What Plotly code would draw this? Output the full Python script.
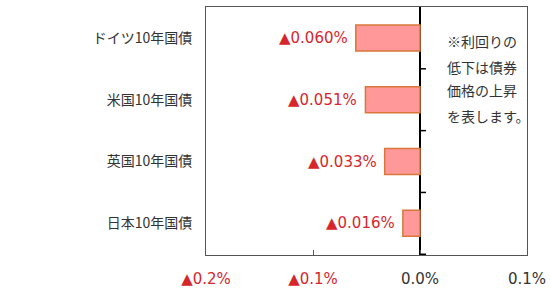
import plotly.graph_objects as go

categories = ["ドイツ10年国債", "米国10年国債", "英国10年国債", "日本10年国債"]
values = [-0.060, -0.051, -0.033, -0.016]
x_tickvals = [-0.2, -0.1, 0.0, 0.1]
x_ticklabels = ["▲0.2%", "▲0.1%", "0.0%", "0.1%"]
note_lines = ["※利回りの", "低下は債券", "価格の上昇", "を表します。"]

RED = "#D7262B"
DARK = "#333333"
NUMFONT = "DejaVu Sans, Noto Sans CJK JP, sans-serif"
JPFONT = "Noto Sans CJK JP, sans-serif"

def fmt(v):
    return ("▲" if v < 0 else "") + f"{abs(v):.3f}%"

def tick_text(lbl):
    if lbl.startswith("▲"):
        return f"<span style='color:{RED}'>{lbl}</span>"
    return lbl

fig = go.Figure()
fig.add_trace(go.Bar(
    y=categories, x=values, orientation="h", width=0.42,
    marker=dict(color="#FF9999", line=dict(color="#D9773A", width=1.5)),
    hoverinfo="skip",
))

for c, v in zip(categories, values):
    fig.add_annotation(x=v, y=c, xref="x", yref="y", text=fmt(v), showarrow=False,
                       xanchor="right", xshift=-6,
                       font=dict(family=NUMFONT, size=15, color=RED))

note_y = [0.862, 0.760, 0.665, 0.562]
for t, yy in zip(note_lines, note_y):
    fig.add_annotation(x=0.7445, y=yy, xref="paper", yref="paper", text=t, showarrow=False,
                       xanchor="left", yanchor="middle",
                       font=dict(family=JPFONT, size=14, color=DARK))

# boundary tick marks on the zero line
for b in [0.5, 1.5, 2.5, 3.5]:
    fig.add_shape(type="line", xref="x", yref="y", xsizemode="pixel", xanchor=0,
                  x0=0, x1=6, y0=b, y1=b, line=dict(color="#000000", width=1.5))

fig.update_layout(
    width=550, height=291,
    margin=dict(l=206, r=23, t=7, b=36),
    paper_bgcolor="white", plot_bgcolor="white",
    showlegend=False,
    bargap=0.5,
)
fig.update_xaxes(
    range=[-0.2, 0.1], tickvals=x_tickvals,
    ticktext=[tick_text(l) for l in x_ticklabels],
    showgrid=False, zeroline=True, zerolinecolor="#000000", zerolinewidth=1.5,
    showline=True, mirror=True, linecolor="#555555", linewidth=1,
    ticks="inside", ticklen=5, tickcolor="#555555",
    ticklabelstandoff=10, automargin=False,
    tickfont=dict(family=NUMFONT, size=15, color=DARK),
    fixedrange=True,
)
fig.update_yaxes(
    categoryorder="array", categoryarray=categories, autorange="reversed",
    showgrid=False, showline=True, mirror=True, linecolor="#555555", linewidth=1,
    ticks="", ticklabelstandoff=10, automargin=False,
    tickfont=dict(family=JPFONT, size=14, color=DARK),
    fixedrange=True,
)

fig.write_html("out.html", config={"displayModeBar": False})
